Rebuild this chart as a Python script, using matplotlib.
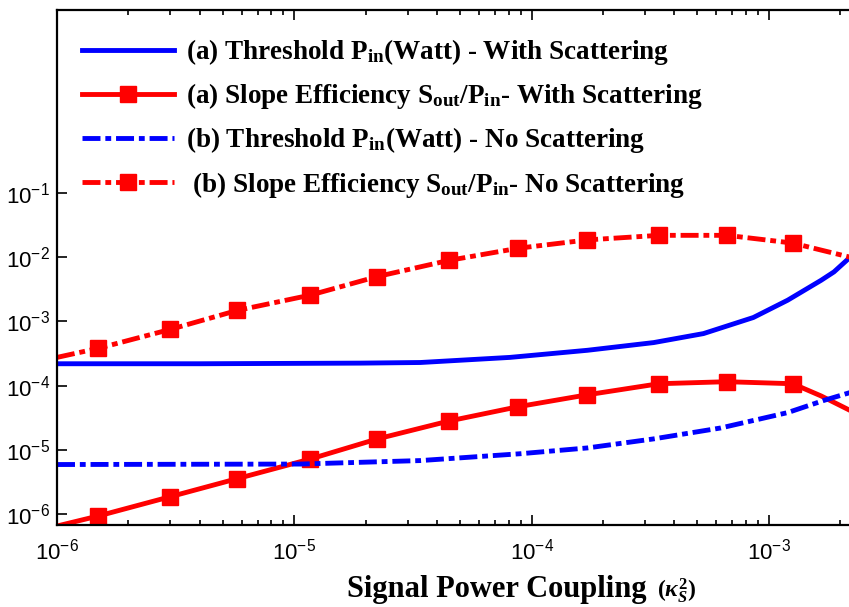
import numpy as np
import matplotlib
matplotlib.use("Agg")
import matplotlib.pyplot as plt
from matplotlib.ticker import NullLocator

plt.rcParams['mathtext.fontset'] = 'custom'
plt.rcParams['mathtext.rm'] = 'Liberation Serif:bold'
plt.rcParams['mathtext.bf'] = 'Liberation Serif:bold'
plt.rcParams['mathtext.it'] = 'Liberation Serif:italic:bold'
plt.rcParams['axes.unicode_minus'] = False

# (a) threshold, with scattering
x_thr_a = [1e-6, 4.0e-6, 1.9e-5, 3.4e-5, 8.1e-5, 1.72e-4, 3.27e-4, 5.3e-4, 8.6e-4, 1.2e-3, 1.66e-3, 1.88e-3, 2.2e-3]
y_thr_a = [2.19e-4, 2.19e-4, 2.24e-4, 2.29e-4, 2.75e-4, 3.55e-4, 4.68e-4, 6.46e-4, 1.15e-3, 2.14e-3, 4.37e-3, 5.9e-3, 1.0e-2]

# (b) threshold, no scattering
x_thr_b = [1e-6, 1.06e-5, 3.4e-5, 9.0e-5, 1.72e-4, 3.27e-4, 6.27e-4, 1.2e-3, 1.71e-3, 2.2e-3]
y_thr_b = [5.9e-6, 6.0e-6, 6.8e-6, 8.7e-6, 1.07e-5, 1.48e-5, 2.19e-5, 3.8e-5, 5.9e-5, 7.8e-5]

# slope efficiency x points (first = axis start, 1..11 = markers, last two = tail)
x_slope = [1e-6, 1.49e-6, 3.0e-6, 5.74e-6, 1.17e-5, 2.24e-5, 4.47e-5, 8.8e-5, 1.72e-4,
           3.44e-4, 6.65e-4, 1.26e-3, 1.66e-3, 2.2e-3]
y_slope_a = [6.5e-7, 9.3e-7, 1.86e-6, 3.55e-6, 7.2e-6, 1.48e-5, 2.8e-5, 4.7e-5, 7.2e-5,
             1.07e-4, 1.15e-4, 1.07e-4, 6.9e-5, 4.1e-5]
y_slope_b = [2.75e-4, 3.8e-4, 7.5e-4, 1.48e-3, 2.57e-3, 5.0e-3, 8.9e-3, 1.38e-2, 1.86e-2,
             2.19e-2, 2.19e-2, 1.66e-2, 1.29e-2, 1.0e-2]
marker_idx = list(range(1, 12))

labels = [
    r'(a) Threshold P$_{\mathrm{in}}$(Watt) - With Scattering',
    r'(a) Slope Efficiency S$_{\mathrm{out}}$/P$_{\mathrm{in}}$- With Scattering',
    r'(b) Threshold P$_{\mathrm{in}}$(Watt) - No Scattering',
    r' (b) Slope Efficiency S$_{\mathrm{out}}$/P$_{\mathrm{in}}$- No Scattering',
]

fig = plt.figure(figsize=(8.49, 6.07), dpi=100)
ax = fig.add_axes([57 / 849, 82 / 607, 803 / 849, 515 / 607])

dd = (3.7, 1.0, 1.2, 1.0)
lw = 3.5
ax.plot(x_thr_a, y_thr_a, color='#0000ff', lw=lw, label=labels[0])
ax.plot(x_slope, y_slope_a, color='#ff0000', lw=lw, marker='s', ms=12,
        markevery=marker_idx, label=labels[1])
ax.plot(x_thr_b, y_thr_b, color='#0000ff', lw=lw, dashes=dd, label=labels[2])
ax.plot(x_slope, y_slope_b, color='#ff0000', lw=lw, dashes=dd, marker='s', ms=12,
        markevery=marker_idx, label=labels[3])

ax.set_xscale('log')
ax.set_yscale('log')
ax.set_xlim(1e-6, 10 ** (-6 + 803 / 237.3))
ax.set_ylim(10 ** -6.171, 10 ** 1.85)
ax.set_yticks([1e-6, 1e-5, 1e-4, 1e-3, 1e-2, 1e-1])
ax.yaxis.set_minor_locator(NullLocator())

for s in ax.spines.values():
    s.set_linewidth(1.6)
ax.tick_params(which='both', direction='in', top=True, right=False, width=1.2)
ax.tick_params(which='major', length=7)
ax.tick_params(which='minor', length=3.6)
ax.tick_params(axis='y', pad=5)
ax.tick_params(axis='x', pad=10)
for t in ax.get_xticklabels() + ax.get_yticklabels():
    t.set_fontfamily('Liberation Sans')
    t.set_fontsize(16)

leg = ax.legend(loc='upper left', bbox_to_anchor=(25 / 803, 0.947), frameon=False,
                prop={'family': 'Liberation Serif', 'weight': 'bold', 'size': 19.5},
                handlelength=3.4, handletextpad=0.45, labelspacing=0.52,
                borderaxespad=0.0, borderpad=0.0)

fig.text(347 / 849, 10 / 607, 'Signal Power Coupling', family='Liberation Serif',
         weight='bold', size=22, ha='left', va='baseline')
fig.text(657 / 849, 10 / 607, r'$(\kappa_S^2)$', family='Liberation Serif',
         size=17, ha='left', va='baseline')

fig.savefig('out.png', dpi=100)
